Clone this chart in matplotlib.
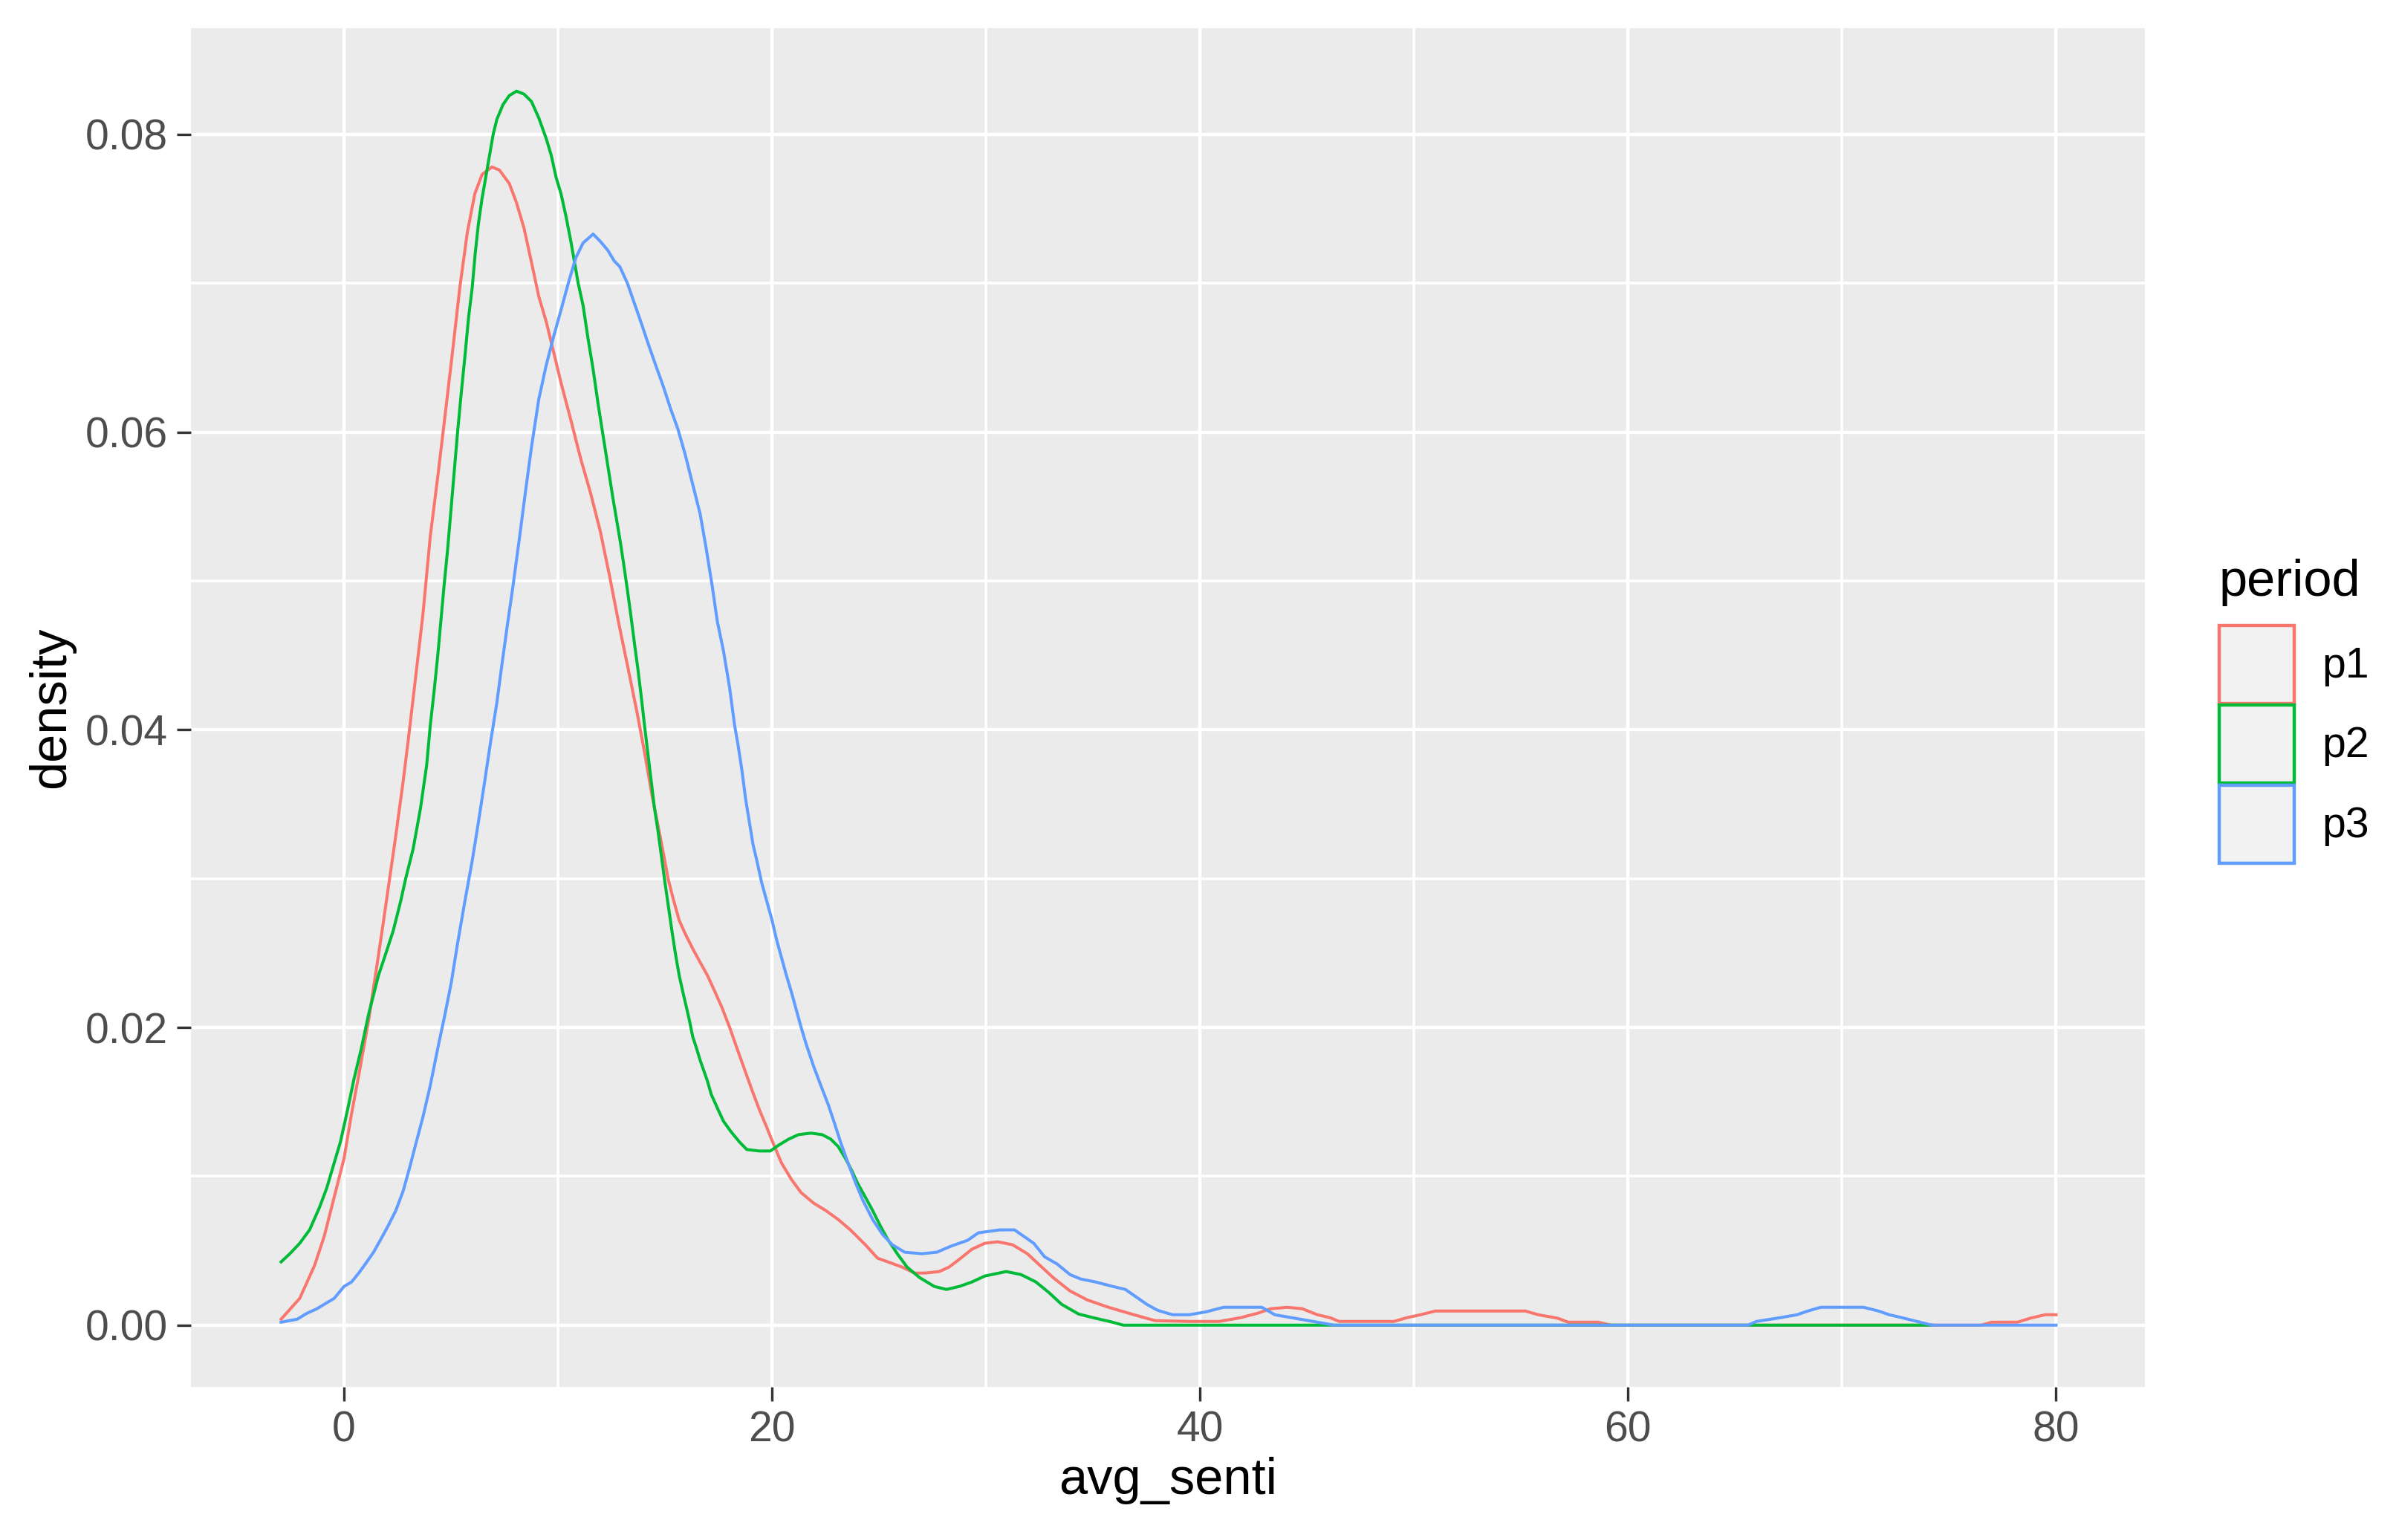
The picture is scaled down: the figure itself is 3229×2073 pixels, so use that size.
import matplotlib
matplotlib.use("Agg")
import matplotlib.pyplot as plt
from matplotlib.patches import Patch
from matplotlib.ticker import MultipleLocator

plt.rcParams['font.family'] = ['Liberation Sans', 'DejaVu Sans']

# density curves (avg_senti vs density)
p1_x = [-2.94, -2.07, -1.38, -0.92, -0.46, 0.00, 0.35, 0.69, 1.15, 1.50, 1.84, 2.07, 2.42, 2.76, 3.05, 3.40,
        3.69, 4.03, 4.38, 4.72, 5.07, 5.41, 5.76, 6.11, 6.45, 6.91, 7.26, 7.72, 8.06, 8.41, 8.76, 9.10,
        9.45, 9.79, 10.14, 10.60, 11.06, 11.52, 11.98, 12.44, 12.83, 13.29, 13.70, 14.04, 14.39, 14.68,
        14.91, 15.14, 15.37, 15.66, 15.94, 16.29, 16.63, 16.98, 17.33, 17.67, 18.02, 18.36, 18.71, 19.06,
        19.40, 19.75, 20.00, 20.44, 20.90, 21.36, 21.94, 22.51, 23.09, 23.66, 24.36, 24.93, 25.51, 26.08,
        26.66, 27.15, 27.81, 28.27, 28.73, 29.34, 29.94, 30.54, 31.24, 31.93, 32.53, 33.13, 33.92, 34.72,
        35.72, 36.91, 37.91, 39.50, 40.90, 41.89, 42.69, 43.29, 44.08, 44.78, 45.48, 46.08, 46.50, 49.06,
        49.66, 50.30, 51.00, 55.20, 55.80, 56.70, 57.20, 58.60, 59.20, 76.50, 77.00, 78.20, 78.80, 79.50,
        80.00]
p1_y = [0.0004, 0.0018, 0.0040, 0.0060, 0.0086, 0.0112, 0.0142, 0.0168, 0.0205, 0.0238, 0.0271, 0.0294,
        0.0329, 0.0365, 0.0399, 0.0442, 0.0478, 0.0530, 0.0570, 0.0611, 0.0654, 0.0697, 0.0734, 0.0760,
        0.0773, 0.0778, 0.0776, 0.0767, 0.0754, 0.0737, 0.0714, 0.0691, 0.0674, 0.0654, 0.0633, 0.0608,
        0.0582, 0.0559, 0.0533, 0.0501, 0.0472, 0.0440, 0.0411, 0.0385, 0.0356, 0.0335, 0.0318, 0.0300,
        0.0287, 0.0272, 0.0263, 0.0253, 0.0244, 0.0235, 0.0224, 0.0213, 0.0200, 0.0186, 0.0172, 0.0158,
        0.0145, 0.0133, 0.0124, 0.0109, 0.0098, 0.0089, 0.0082, 0.0077, 0.0071, 0.0064, 0.0054, 0.0045,
        0.0042, 0.0039, 0.0035, 0.0035, 0.0036, 0.0039, 0.0044, 0.0051, 0.0055, 0.0056, 0.0054, 0.0048,
        0.0040, 0.0032, 0.0023, 0.0017, 0.0012, 0.0007, 0.0003, 0.00025, 0.00025, 0.0005, 0.0008, 0.0011,
        0.0012, 0.0011, 0.0007, 0.0005, 0.00025, 0.00025, 0.0005, 0.0007, 0.00095, 0.00095, 0.0007,
        0.00047, 0.0002, 0.0002, 0.0, 0.0, 0.0002, 0.0002, 0.00047, 0.0007, 0.0007]

p2_x = [-2.94, -2.53, -2.07, -1.61, -1.15, -0.81, -0.46, -0.17, 0.17, 0.46, 0.81, 1.15, 1.61, 1.96, 2.30,
        2.65, 2.88, 3.23, 3.57, 3.86, 4.03, 4.21, 4.38, 4.67, 4.84, 5.07, 5.30, 5.47, 5.65, 5.82, 5.99,
        6.13, 6.28, 6.45, 6.62, 6.80, 6.97, 7.14, 7.43, 7.72, 8.06, 8.41, 8.76, 9.10, 9.45, 9.68, 9.91,
        10.14, 10.37, 10.60, 10.94, 11.17, 11.41, 11.64, 11.87, 12.10, 12.33, 12.56, 12.89, 13.06, 13.24,
        13.41, 13.58, 13.73, 13.89, 14.04, 14.19, 14.35, 14.50, 14.68, 14.85, 15.00, 15.16, 15.32, 15.48,
        15.66, 15.83, 16.12, 16.29, 16.47, 16.64, 16.81, 16.98, 17.16, 17.44, 17.73, 18.08, 18.48, 18.82,
        19.40, 19.92, 20.32, 20.78, 21.24, 21.82, 22.34, 22.74, 23.09, 23.43, 23.72, 24.01, 24.36, 24.70,
        25.05, 25.39, 25.85, 26.31, 26.89, 27.58, 28.15, 28.75, 29.34, 29.94, 30.94, 31.63, 32.33, 32.93,
        33.53, 34.32, 35.12, 35.82, 36.41, 74.20]
p2_y = [0.00425, 0.0048, 0.0055, 0.0064, 0.0079, 0.0092, 0.0109, 0.0123, 0.0145, 0.0165, 0.0186, 0.0209,
        0.0235, 0.0250, 0.0265, 0.0285, 0.0300, 0.0320, 0.0347, 0.0376, 0.0403, 0.0426, 0.0450, 0.0496,
        0.0521, 0.0560, 0.0599, 0.0625, 0.0651, 0.0677, 0.0697, 0.0720, 0.0740, 0.0757, 0.0771, 0.0786,
        0.0800, 0.0810, 0.0820, 0.0826, 0.0829, 0.0827, 0.0822, 0.0811, 0.0797, 0.0786, 0.0771, 0.0760,
        0.0745, 0.0728, 0.0700, 0.0685, 0.0662, 0.0642, 0.0619, 0.0598, 0.0577, 0.0556, 0.0528, 0.0512,
        0.0494, 0.0476, 0.0457, 0.0441, 0.0422, 0.0403, 0.0385, 0.0366, 0.0348, 0.0331, 0.0313, 0.0297,
        0.0281, 0.0265, 0.0250, 0.0235, 0.0224, 0.0206, 0.0194, 0.0186, 0.0178, 0.0171, 0.0164, 0.0155,
        0.0146, 0.0137, 0.0130, 0.0123, 0.0118, 0.0117, 0.0117, 0.0121, 0.0125, 0.0128, 0.0129, 0.0128,
        0.0125, 0.0120, 0.0112, 0.0104, 0.0095, 0.0086, 0.0077, 0.0067, 0.0058, 0.0048, 0.0039, 0.0032,
        0.0026, 0.0024, 0.0026, 0.0029, 0.0033, 0.0036, 0.0034, 0.0029, 0.0022, 0.0014, 0.00075, 0.00046,
        0.00023, 0.0, 0.0]

p3_x = [-2.94, -2.19, -1.73, -1.27, -0.92, -0.46, 0.00, 0.35, 0.69, 1.04, 1.38, 1.73, 2.07, 2.42, 2.76,
        3.05, 3.34, 3.69, 4.03, 4.38, 4.72, 5.01, 5.30, 5.65, 5.99, 6.28, 6.57, 6.85, 7.14, 7.37, 7.60,
        7.89, 8.18, 8.47, 8.76, 9.10, 9.45, 9.79, 10.14, 10.48, 10.83, 11.17, 11.64, 11.98, 12.33, 12.62,
        12.89, 13.24, 13.53, 13.87, 14.22, 14.56, 14.91, 15.25, 15.60, 15.94, 16.29, 16.64, 16.92, 17.21,
        17.44, 17.73, 18.02, 18.25, 18.42, 18.59, 18.77, 18.94, 19.11, 19.29, 19.52, 19.75, 20.00, 20.21,
        20.44, 20.67, 20.90, 21.13, 21.36, 21.59, 21.94, 22.28, 22.63, 22.91, 23.20, 23.55, 23.89, 24.24,
        24.70, 25.16, 25.62, 26.20, 27.00, 27.70, 28.35, 29.14, 29.64, 30.64, 31.33, 31.73, 32.23, 32.73,
        33.33, 33.92, 34.42, 35.12, 35.92, 36.51, 37.01, 37.51, 38.01, 38.71, 39.50, 40.30, 41.10, 42.09,
        42.89, 43.49, 44.28, 45.28, 46.27, 65.60, 66.00, 67.10, 67.90, 68.40, 69.00, 71.00, 71.70, 72.20,
        72.80, 73.50, 74.20, 80.00]
p3_y = [0.0002, 0.0004, 0.0008, 0.0011, 0.0014, 0.0018, 0.0026, 0.0029, 0.0035, 0.0042, 0.0049, 0.0058,
        0.0067, 0.0077, 0.0090, 0.0105, 0.0121, 0.0140, 0.0161, 0.0186, 0.0209, 0.0230, 0.0256, 0.0285,
        0.0312, 0.0338, 0.0365, 0.0392, 0.0418, 0.0443, 0.0467, 0.0496, 0.0527, 0.0559, 0.0590, 0.0622,
        0.0645, 0.0664, 0.0682, 0.0700, 0.0717, 0.0727, 0.0733, 0.0728, 0.0722, 0.0715, 0.0711, 0.0700,
        0.0688, 0.0674, 0.0659, 0.0645, 0.0631, 0.0616, 0.0602, 0.0585, 0.0565, 0.0545, 0.0522, 0.0496,
        0.0473, 0.0453, 0.0428, 0.0403, 0.0389, 0.0373, 0.0353, 0.0338, 0.0323, 0.0312, 0.0297, 0.0285,
        0.0272, 0.0259, 0.0247, 0.0235, 0.0224, 0.0212, 0.0200, 0.0189, 0.0174, 0.0161, 0.0148, 0.0136,
        0.0123, 0.0109, 0.0096, 0.0084, 0.0071, 0.0061, 0.0054, 0.0049, 0.0048, 0.0049, 0.0053, 0.0057,
        0.0062, 0.0064, 0.0064, 0.0060, 0.0055, 0.0046, 0.0041, 0.0034, 0.0031, 0.0029, 0.0026, 0.0024,
        0.0019, 0.0014, 0.0010, 0.0007, 0.0007, 0.0009, 0.0012, 0.0012, 0.0012, 0.0007, 0.0005, 0.00025,
        0.0, 0.0, 0.00025, 0.0005, 0.0007, 0.00095, 0.0012, 0.0012, 0.00095, 0.0007, 0.0005, 0.00025,
        0.0, 0.0]

periods = ['p1', 'p2', 'p3']
colors = ['#F8766D', '#00BA38', '#619CFF']
series = [(p1_x, p1_y), (p2_x, p2_y), (p3_x, p3_y)]

fig = plt.figure(figsize=(16.15, 10.365), dpi=200)
ax = fig.add_axes([0.0796, 0.0994, 0.8142, 0.8825])
ax.set_facecolor('#EBEBEB')

for (xs, ys), c in zip(series, colors):
    ax.plot(xs, ys, color=c, linewidth=1.45, solid_joinstyle='round')

ax.set_xlim(-7.15, 84.15)
ax.set_ylim(-0.00415, 0.08715)
ax.xaxis.set_major_locator(MultipleLocator(20))
ax.xaxis.set_minor_locator(MultipleLocator(10))
ax.yaxis.set_major_locator(MultipleLocator(0.02))
ax.yaxis.set_minor_locator(MultipleLocator(0.01))
ax.yaxis.set_major_formatter(matplotlib.ticker.FormatStrFormatter('%.2f'))
ax.grid(which='major', color='white', linewidth=1.6)
ax.grid(which='minor', color='white', linewidth=1.3)
ax.set_axisbelow(True)
for s in ax.spines.values():
    s.set_visible(False)
ax.tick_params(which='major', length=6.8, width=1.2, color='#333333', labelsize=20.5,
               labelcolor='#4D4D4D', pad=4.5)
ax.tick_params(which='minor', length=0)

ax.set_xlabel('avg_senti', fontsize=24.7, labelpad=3)
ax.set_ylabel('density', fontsize=24.7, labelpad=5)

handles = [Patch(facecolor='#F2F2F2', edgecolor=c, linewidth=1.6) for c in colors]
ax.legend(handles, periods, loc='upper left', bbox_to_anchor=(2987 / 3230, 1 - 842 / 2073),
          bbox_transform=fig.transFigure, frameon=False, fontsize=20.5, handlelength=1.78,
          handleheight=2.45, labelspacing=0.05, handletextpad=0.65, borderpad=0, borderaxespad=0)
fig.text(2987 / 3230, 1 - 802 / 2073, 'period', fontsize=24.7, va='baseline', ha='left')

fig.savefig('out.png', dpi=200)
